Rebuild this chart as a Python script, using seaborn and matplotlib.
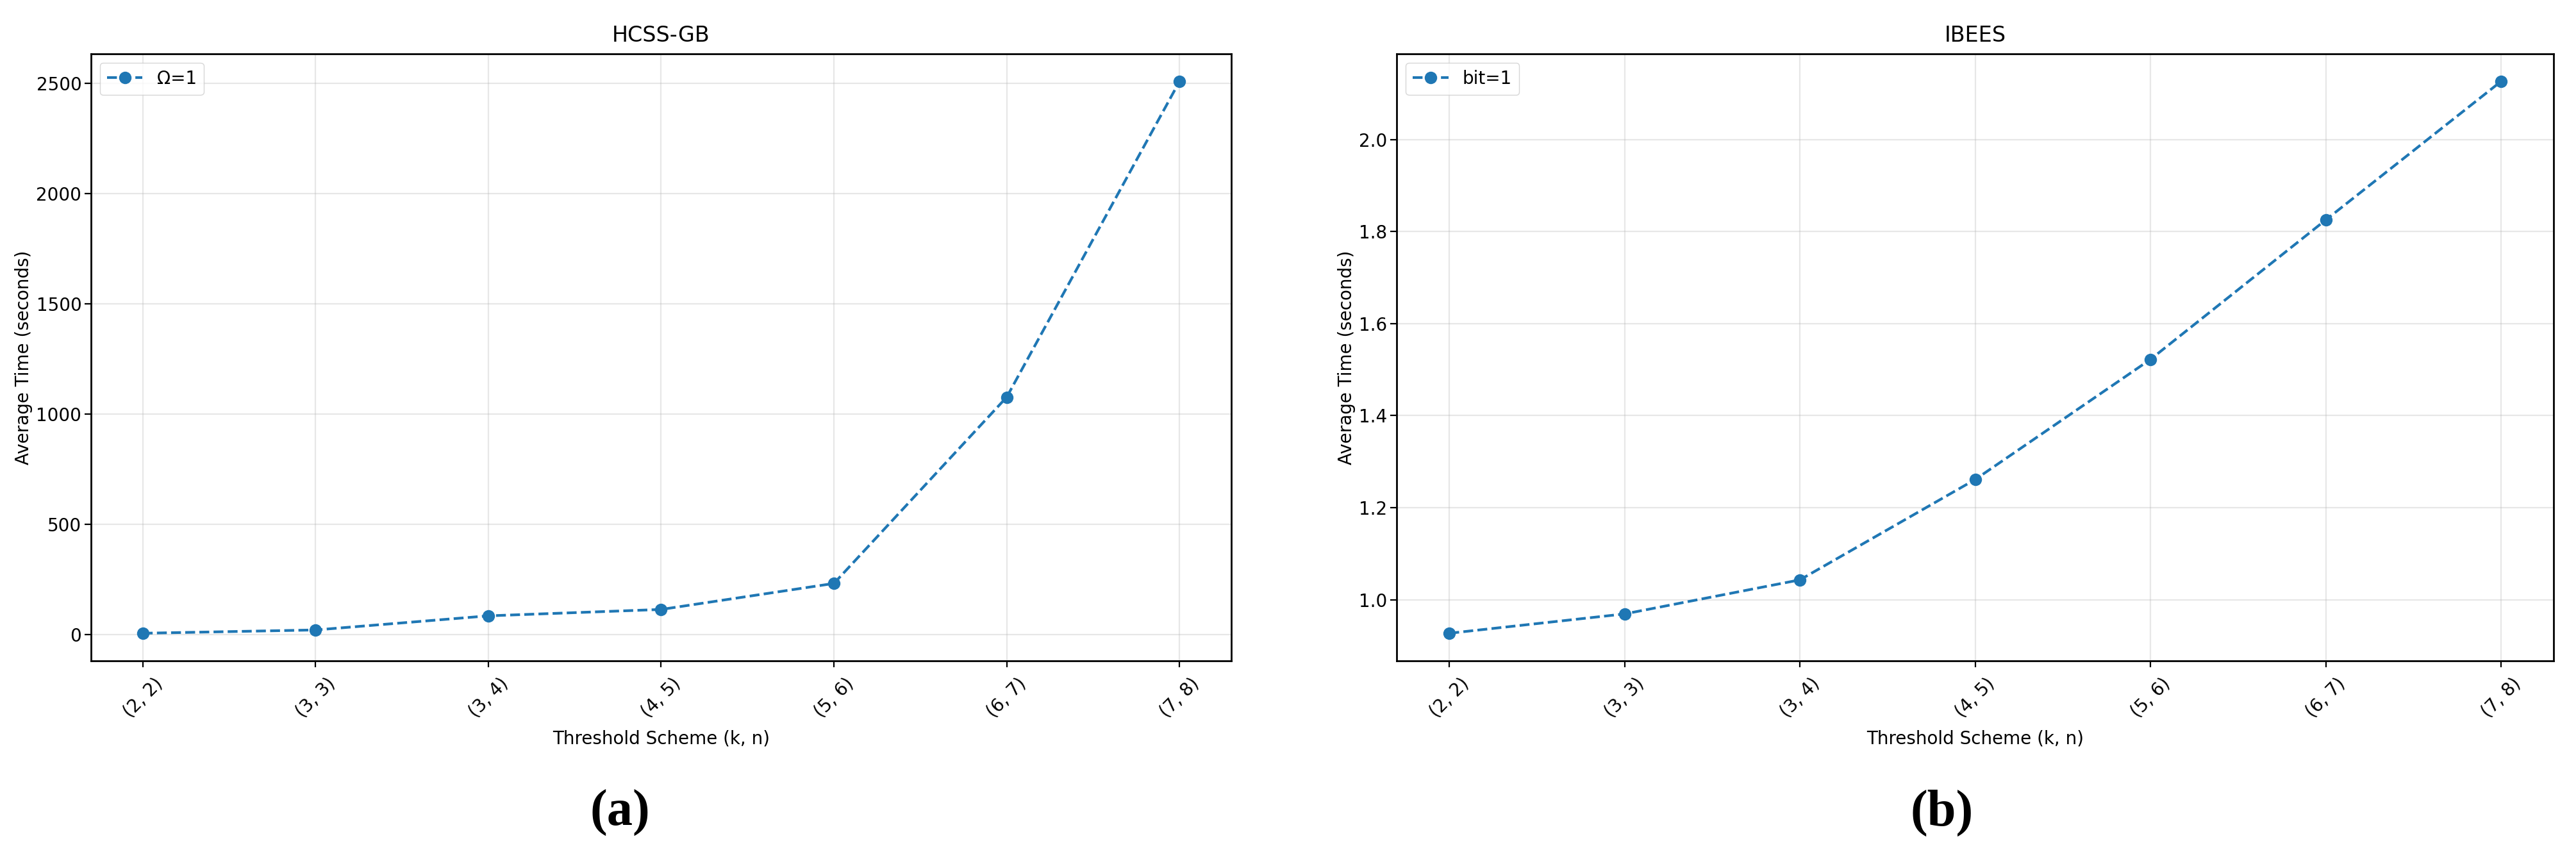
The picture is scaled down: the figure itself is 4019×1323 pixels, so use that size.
import matplotlib
matplotlib.use("Agg")
import matplotlib.pyplot as plt
import seaborn as sns

# threshold schemes (k, n)
schemes = ["(2, 2)", "(3, 3)", "(3, 4)", "(4, 5)", "(5, 6)", "(6, 7)", "(7, 8)"]

# average times
hcss_gb = [7, 22, 86, 115, 233, 1078, 2510]
ibees = [0.927, 0.969, 1.043, 1.261, 1.522, 1.825, 2.126]

plt.rcParams['font.family'] = ['DejaVu Sans']

fig = plt.figure(figsize=(40.19, 13.23), dpi=100)
ax1 = fig.add_axes([0.0353, 0.2207, 0.4427, 0.7158])
ax2 = fig.add_axes([0.5422, 0.2207, 0.4491, 0.7158])

panels = [
    (ax1, hcss_gb, "Ω=1", "HCSS-GB"),
    (ax2, ibees, "bit=1", "IBEES"),
]

for ax, vals, lab, title in panels:
    sns.lineplot(x=schemes, y=vals, ax=ax, sort=False, marker='o', linestyle='--',
                 color='#1f77b4', linewidth=3, markersize=14, markeredgewidth=0,
                 label=lab)
    ax.set_title(title, fontsize=24, pad=14)
    ax.set_xlabel("Threshold Scheme (k, n)", fontsize=20, labelpad=10)
    ax.set_ylabel("Average Time (seconds)", fontsize=20)
    ax.tick_params(axis='both', labelsize=20, length=7, width=1.6)
    ax.tick_params(axis='x', labelrotation=45, pad=8)
    ax.grid(True, alpha=0.3, linewidth=1.6)
    for s in ax.spines.values():
        s.set_linewidth(2)
    ax.legend(loc='upper left', fontsize=20, frameon=True)

fig.text(0.2406, 0.0416, "(a)", ha='center', va='center', fontsize=58,
         fontweight='bold', family=['Liberation Serif'])
fig.text(0.7539, 0.0416, "(b)", ha='center', va='center', fontsize=58,
         fontweight='bold', family=['Liberation Serif'])

fig.savefig("out.png", dpi=100)
